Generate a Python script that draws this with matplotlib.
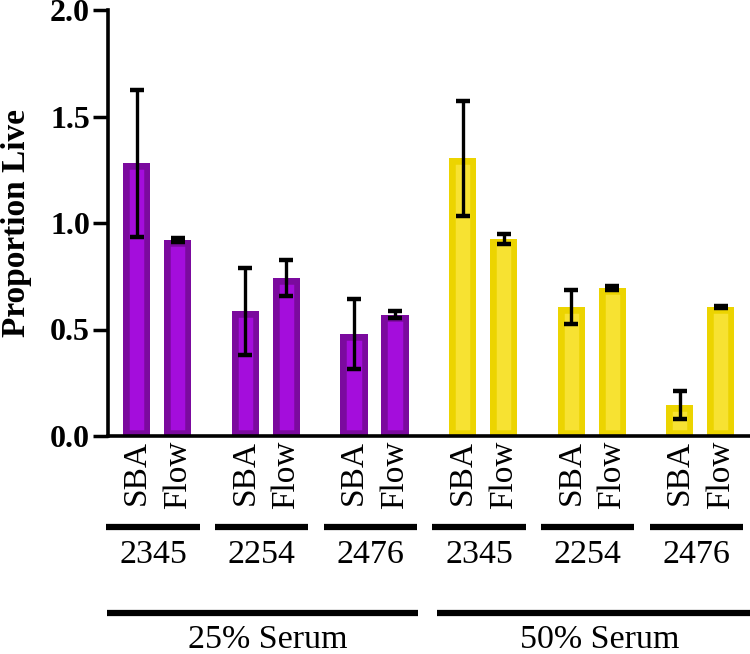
import matplotlib
matplotlib.use('Agg')
import matplotlib.pyplot as plt
import matplotlib.transforms as mtransforms
import numpy as np

# data
sera = ['25% Serum', '50% Serum']
strains = ['2345', '2254', '2476']
methods = ['SBA', 'Flow']

means_25 = [1.28, 0.92, 0.585, 0.74, 0.48, 0.57]
sd_25 = [0.345, 0.008, 0.205, 0.085, 0.165, 0.015]
means_50 = [1.305, 0.925, 0.605, 0.695, 0.145, 0.605]
sd_50 = [0.27, 0.022, 0.08, 0.008, 0.065, 0.006]

fill_colors = ['#A40DDC', '#F7E232']
edge_colors = ['#7B0A9E', '#ECD400']

plt.rcParams['font.family'] = ['Liberation Serif', 'DejaVu Serif']

fig = plt.figure(figsize=(7.5, 6.54), dpi=100)
ax = fig.add_axes([108 / 750, 218 / 654, 642 / 750, 426 / 654])

group_gap = 2.65
bar_w = 0.66
positions = []
for s, (means, sds) in enumerate([(means_25, sd_25), (means_50, sd_50)]):
    x = np.array([(s * 3 + i // 2) * group_gap + i % 2 for i in range(len(means))])
    positions.extend(x)
    bars = ax.bar(x, means, width=bar_w, color=fill_colors[s], edgecolor=edge_colors[s],
                  linewidth=9, zorder=2)
    # keep the edge inside the bar
    for b in bars:
        b.set_clip_path(b)
    ax.errorbar(x, means, yerr=sds, fmt='none', ecolor='black', elinewidth=2.4,
                capsize=5, capthick=3.2, zorder=3)

ax.set_xlim(-0.7, 14.96)
ax.set_ylim(0, 2.0)
ax.set_yticks([0.0, 0.5, 1.0, 1.5, 2.0])
ax.set_yticklabels(['0.0', '0.5', '1.0', '1.5', '2.0'], fontsize=23, fontweight='bold')
ax.set_ylabel('Proportion Live', fontsize=24, fontweight='bold')
ax.yaxis.set_label_coords(-0.118, 0.5)

ax.set_xticks(positions)
ax.set_xticklabels(methods * 6, rotation=90, fontsize=24, va='top')
ax.tick_params(axis='x', length=0, pad=3)
ax.tick_params(axis='y', length=11, width=2.5, pad=2)

for side in ['top', 'right']:
    ax.spines[side].set_visible(False)
for side in ['left', 'bottom']:
    ax.spines[side].set_linewidth(2.6)

# group bars and labels under the axis
trans = mtransforms.blended_transform_factory(ax.transData, ax.transAxes)
for g in range(6):
    c = g * group_gap + 0.5 - 0.1
    ax.plot([c - 1.14, c + 1.14], [-0.2136, -0.2136], color='black', lw=4.5,
            transform=trans, clip_on=False, solid_capstyle='butt')
    ax.text(c, -0.279, strains[g % 3], transform=trans, ha='center', va='center',
            fontsize=24.5)

big_spans = [(-0.72, 6.87), (7.33, 15.0)]
big_centers = [3.2, 11.3]
for s in range(2):
    ax.plot(big_spans[s], [-0.4155, -0.4155], color='black', lw=4.5,
            transform=trans, clip_on=False, solid_capstyle='butt')
    ax.text(big_centers[s], -0.497, sera[s], transform=trans, ha='center',
            va='baseline', fontsize=24.5)

fig.savefig('out.png', dpi=100)
